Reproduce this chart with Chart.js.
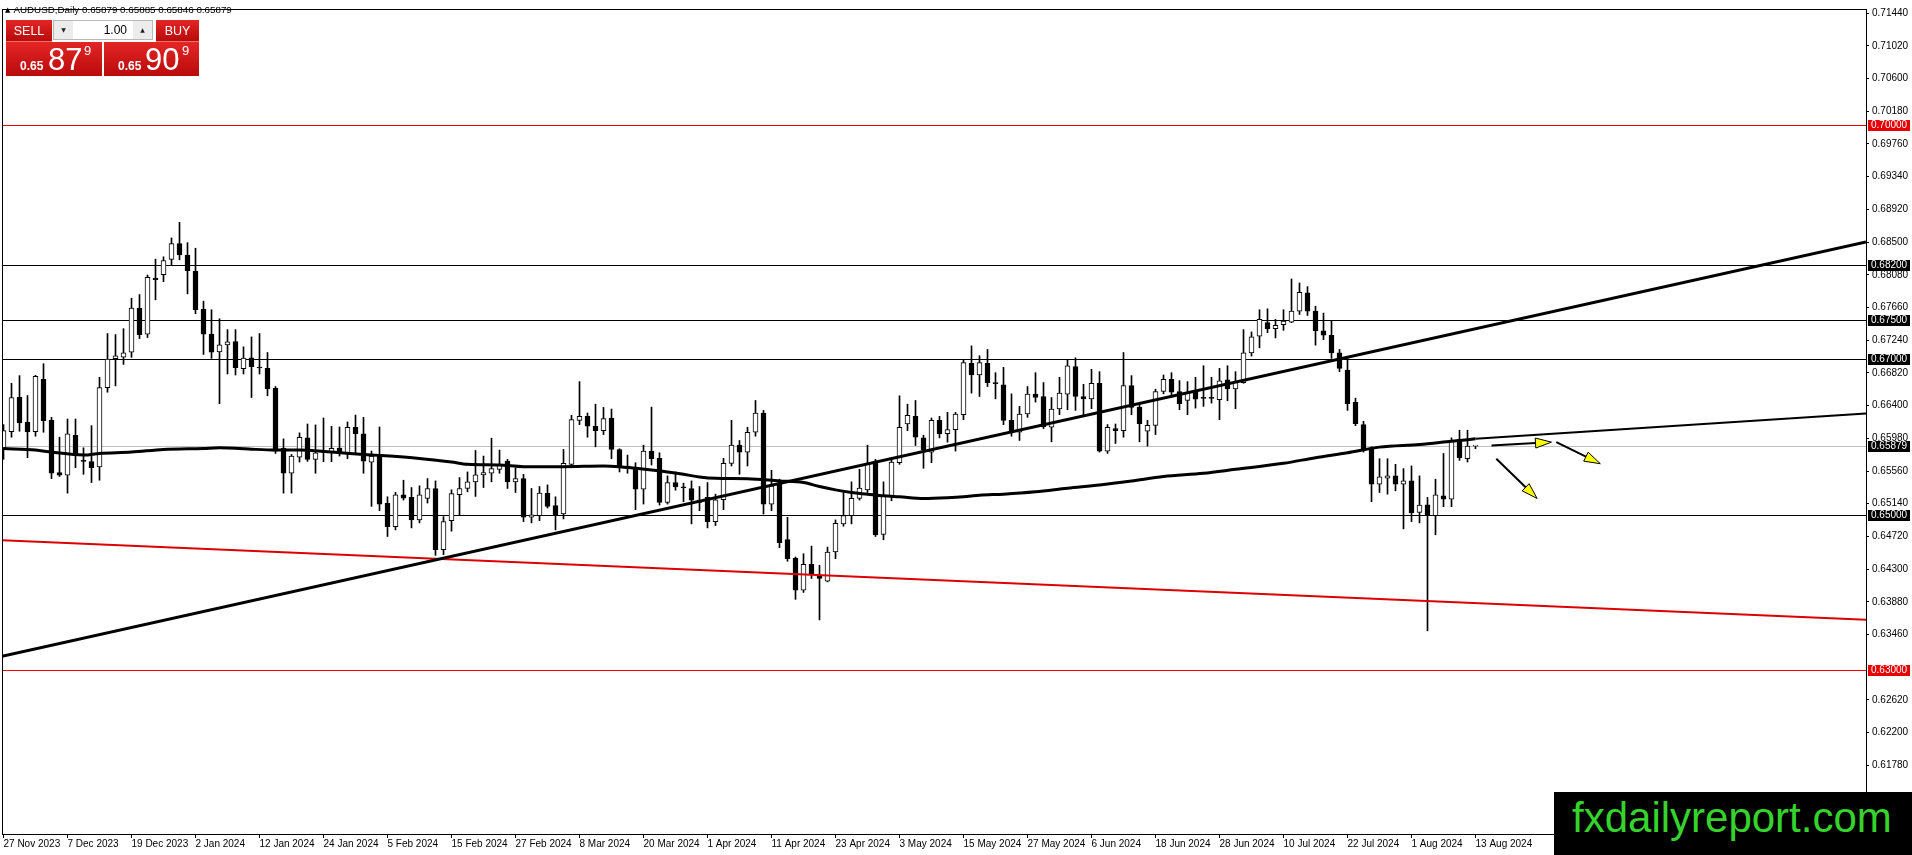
<!DOCTYPE html>
<html>
<head>
<meta charset="utf-8">
<script src="https://cdn.jsdelivr.net/npm/chart.js@4.4.1/dist/chart.umd.min.js"></script>
<style>
  html, body { margin: 0; padding: 0; background: #fff; }
  #wrap { position: relative; width: 1912px; height: 855px; overflow: hidden; }
  #c { position: absolute; left: 0; top: 0; }
  .title { position: absolute; left: 5px; top: 4px; font: 9.8px "Liberation Sans", Arial, sans-serif; line-height: 12px; color: #000; white-space: nowrap; }
  .title .tri { font: 7px "DejaVu Sans", sans-serif; margin-right: 3px; position: relative; top: -1px; }
  .red { position: absolute; background: linear-gradient(#e32626, #b90a0a); color: #fff; font-family: "Liberation Sans", Arial, sans-serif; }
  .hdr { top: 20px; height: 22px; line-height: 22px; font-size: 12.5px; text-align: center; border-bottom: 1px solid #f07070; box-sizing: border-box; }
  .pbox { top: 42px; height: 34px; }
  .pbox span { position: absolute; line-height: 1; white-space: nowrap; }
  .sm { font-size: 12px; font-weight: bold; top: 18px; }
  .big { font-size: 31px; top: 2px; }
  .sup { font-size: 13px; top: 2px; }
  .spin { position: absolute; left: 53px; top: 20px; width: 100px; height: 20px; background: #fff; border: 1px solid #b8b8b8; box-sizing: border-box; font: 12px "Liberation Sans", Arial, sans-serif; }
  .spin .btn { position: absolute; top: 0; width: 19px; height: 18px; background: #ececec; font: 6px "DejaVu Sans", sans-serif; line-height: 18px; text-align: center; color: #222; }
  .spin .lots { position: absolute; right: 25px; top: 2px; }
  .wm { position: absolute; left: 1554px; top: 792px; width: 358px; height: 63px; background: #000; color: #35d32b; font: 42px "Liberation Sans", Arial, sans-serif; line-height: 42px; padding: 5px 0 0 18px; box-sizing: border-box; white-space: nowrap; }
</style>
</head>
<body>
<div id="wrap">
  <canvas id="c" width="1912" height="855"></canvas>
  <div class="title"><span class="tri">▲</span>AUDUSD,Daily 0.65879 0.65885 0.65846 0.65879</div>
  <div class="red hdr" style="left:6px;width:46px;">SELL</div>
  <div class="spin">
    <div class="btn" style="left:0;">▼</div>
    <div class="lots">1.00</div>
    <div class="btn" style="right:0;">▲</div>
  </div>
  <div class="red hdr" style="left:156px;width:43px;">BUY</div>
  <div class="red pbox" style="left:6px;width:96px;">
    <span class="sm" style="left:14px;">0.65</span><span class="big" style="left:42px;">87</span><span class="sup" style="left:78px;">9</span>
  </div>
  <div class="red pbox" style="left:104px;width:95px;">
    <span class="sm" style="left:14px;">0.65</span><span class="big" style="left:41px;">90</span><span class="sup" style="left:78px;">9</span>
  </div>
  <div class="wm">fxdailyreport.com</div>
</div>
<script>
// daily AUDUSD candles, bar 0 = 27 Nov 2023 ... bar 184 = 13 Aug 2024
var opens = [
  0.65858,0.66067,0.66509,0.66190,0.66067,0.66738,0.66211,0.65540,0.65506,0.66020,
  0.65688,0.65680,0.65612,0.66632,0.67002,0.67023,0.67087,0.67652,0.67316,0.68039,
  0.68081,0.68277,0.68481,0.68332,0.68124,0.67639,0.67320,0.67091,0.67180,0.67223,
  0.66874,0.67014,0.66891,0.66878,0.66623,0.65850,0.65531,0.65739,0.65986,0.65710,
  0.65807,0.65807,0.65854,0.65795,0.66122,0.66037,0.65675,0.65765,0.65144,0.64847,
  0.65255,0.65221,0.64932,0.65208,0.65336,0.64549,0.64923,0.65255,0.65336,0.65421,
  0.65510,0.65531,0.65582,0.65688,0.65421,0.65463,0.64966,0.64987,0.65276,0.65115,
  0.65008,0.65646,0.66211,0.66262,0.66135,0.66079,0.66241,0.65837,0.65620,0.65603,
  0.65327,0.65816,0.65722,0.65157,0.65412,0.65353,0.65336,0.65157,0.65221,0.64911,
  0.65191,0.65659,0.65892,0.65803,0.66058,0.66305,0.65136,0.65391,0.64681,0.64443,
  0.64031,0.64362,0.64214,0.64146,0.64520,0.64881,0.64987,0.65208,0.65319,0.65688,
  0.64745,0.65242,0.65667,0.66164,0.66262,0.65986,0.65803,0.66211,0.66041,0.66092,
  0.66283,0.66942,0.66793,0.66942,0.66691,0.66666,0.66211,0.66058,0.66292,0.66547,
  0.66517,0.66122,0.66356,0.66547,0.66900,0.66517,0.66487,0.66687,0.65816,0.66105,
  0.66079,0.66657,0.66381,0.66071,0.66147,0.66581,0.66738,0.66581,0.66466,0.66581,
  0.66500,0.66496,0.66475,0.66730,0.66615,0.66696,0.67078,0.67291,0.67465,0.67388,
  0.67439,0.67473,0.67614,0.67847,0.67614,0.67359,0.67303,0.67078,0.66857,0.66441,
  0.66156,0.65858,0.65391,0.65467,0.65497,0.65391,0.65433,0.65030,0.65127,0.64987,
  0.65242,0.65200,0.65965,0.65718,0.65879
];
var highs = [
  0.66156,0.66687,0.66785,0.66530,0.66789,0.66938,0.66249,0.65994,0.66228,0.66228,
  0.65858,0.66143,0.66764,0.67325,0.67312,0.67388,0.67779,0.67826,0.68077,0.68281,
  0.68311,0.68553,0.68753,0.68493,0.68421,0.67741,0.67631,0.67516,0.67376,0.67376,
  0.67155,0.67282,0.67325,0.67082,0.66645,0.65973,0.65773,0.66050,0.66164,0.66152,
  0.66241,0.66135,0.66126,0.66190,0.66279,0.66249,0.65816,0.66126,0.65229,0.65285,
  0.65442,0.65348,0.65370,0.65463,0.65433,0.64974,0.65319,0.65476,0.65548,0.65824,
  0.65752,0.65982,0.65829,0.65710,0.65603,0.65518,0.65336,0.65361,0.65382,0.65229,
  0.65837,0.66275,0.66708,0.66305,0.66419,0.66377,0.66356,0.65846,0.65765,0.65667,
  0.65892,0.66381,0.65795,0.65497,0.65548,0.65404,0.65433,0.65361,0.65412,0.65263,
  0.65722,0.66211,0.65952,0.66122,0.66466,0.66339,0.65569,0.65455,0.64966,0.64456,
  0.64498,0.64596,0.64350,0.64583,0.64932,0.65293,0.65421,0.65582,0.65892,0.65710,
  0.65421,0.65722,0.66526,0.66419,0.66466,0.66020,0.66241,0.66262,0.66313,0.66313,
  0.66985,0.67167,0.67040,0.67121,0.66823,0.66891,0.66551,0.66390,0.66645,0.66823,
  0.66696,0.66504,0.66764,0.66985,0.67014,0.66674,0.66866,0.66836,0.66156,0.66164,
  0.67082,0.66785,0.66432,0.66211,0.66611,0.66793,0.66823,0.66721,0.66708,0.66764,
  0.66912,0.66764,0.66878,0.66912,0.66836,0.67376,0.67346,0.67631,0.67643,0.67507,
  0.67631,0.68026,0.67975,0.67928,0.67677,0.67588,0.67486,0.67121,0.67006,0.66496,
  0.66198,0.65871,0.65718,0.65718,0.65646,0.65591,0.65625,0.65497,0.65221,0.65455,
  0.65786,0.65986,0.66084,0.66084,0.65885
];
var lows = [
  0.65710,0.65994,0.66071,0.65731,0.66007,0.66058,0.65463,0.65489,0.65276,0.65603,
  0.65518,0.65412,0.65442,0.66572,0.66653,0.66929,0.67019,0.67261,0.67274,0.67758,
  0.67992,0.68204,0.68272,0.67835,0.67580,0.67057,0.67006,0.66424,0.66806,0.66793,
  0.66806,0.66504,0.66806,0.66526,0.65786,0.65276,0.65276,0.65676,0.65684,0.65531,
  0.65680,0.65680,0.65752,0.65718,0.65786,0.65531,0.65106,0.65051,0.64719,0.64804,
  0.65187,0.64830,0.64894,0.65149,0.64477,0.64486,0.64787,0.64987,0.65293,0.65234,
  0.65348,0.65421,0.65531,0.65336,0.65284,0.64911,0.64894,0.64923,0.65085,0.64804,
  0.64945,0.65625,0.66156,0.65994,0.65871,0.66028,0.65718,0.65548,0.65531,0.65064,
  0.65136,0.65637,0.65123,0.65136,0.65314,0.65166,0.64881,0.65051,0.64830,0.64860,
  0.65064,0.65625,0.65518,0.65625,0.66007,0.65008,0.65051,0.64575,0.64401,0.63912,
  0.64001,0.64180,0.63648,0.64137,0.64435,0.64851,0.64881,0.65187,0.65284,0.64719,
  0.64677,0.65178,0.65646,0.66079,0.65888,0.65595,0.65667,0.65986,0.65931,0.65816,
  0.66220,0.66560,0.66517,0.66645,0.66487,0.66156,0.66007,0.65952,0.66249,0.66445,
  0.66105,0.65935,0.66283,0.66347,0.66339,0.66283,0.66360,0.65803,0.65786,0.65914,
  0.65994,0.66283,0.65935,0.65880,0.66028,0.66551,0.66509,0.66347,0.66283,0.66368,
  0.66390,0.66432,0.66220,0.66462,0.66360,0.66687,0.67036,0.67142,0.67337,0.67269,
  0.67367,0.67465,0.67571,0.67558,0.67176,0.67248,0.67006,0.66836,0.66339,0.66143,
  0.65803,0.65166,0.65284,0.65263,0.65306,0.64817,0.64911,0.64894,0.63508,0.64741,
  0.65102,0.65102,0.65697,0.65676,0.65846
];
var closes = [
  0.66079,0.66504,0.66177,0.66062,0.66776,0.66207,0.65531,0.65506,0.66037,0.65773,
  0.65684,0.65603,0.66632,0.66997,0.67040,0.67078,0.67652,0.67312,0.68047,0.68017,
  0.68264,0.68481,0.68336,0.68132,0.67631,0.67316,0.67087,0.67180,0.67218,0.66887,
  0.67010,0.66900,0.66883,0.66615,0.65816,0.65531,0.65752,0.65994,0.65710,0.65795,
  0.65799,0.65850,0.65786,0.66122,0.66041,0.65688,0.65752,0.65136,0.64847,0.65255,
  0.65212,0.64932,0.65255,0.65336,0.64549,0.64911,0.65272,0.65336,0.65421,0.65510,
  0.65540,0.65591,0.65633,0.65421,0.65463,0.64966,0.64996,0.65276,0.65106,0.65000,
  0.65659,0.66220,0.66262,0.66135,0.66079,0.66232,0.65837,0.65616,0.65612,0.65327,
  0.65816,0.65718,0.65157,0.65412,0.65357,0.65344,0.65187,0.65187,0.64911,0.65191,
  0.65659,0.65892,0.65803,0.66058,0.66305,0.65136,0.65370,0.64639,0.64435,0.64031,
  0.64362,0.64235,0.64180,0.64520,0.64889,0.64987,0.65208,0.65340,0.65654,0.64741,
  0.65242,0.65675,0.66122,0.66275,0.65994,0.65829,0.66211,0.66041,0.66092,0.66292,
  0.66951,0.66793,0.66951,0.66696,0.66683,0.66211,0.66058,0.66292,0.66547,0.66504,
  0.66126,0.66356,0.66560,0.66912,0.66517,0.66487,0.66687,0.65816,0.66122,0.66079,
  0.66657,0.66377,0.66169,0.66147,0.66581,0.66738,0.66572,0.66424,0.66568,0.66483,
  0.66492,0.66492,0.66717,0.66615,0.66700,0.67078,0.67282,0.67507,0.67388,0.67431,
  0.67486,0.67614,0.67856,0.67614,0.67359,0.67303,0.67078,0.66878,0.66424,0.66169,
  0.65829,0.65391,0.65484,0.65497,0.65391,0.65433,0.65021,0.65123,0.64987,0.65255,
  0.65200,0.65952,0.65731,0.65880,0.65879
];

// moving average (bar index, value)
var maIdx = [0,4,6,10,12,16,20,25,27,29,31,34,37,41,45,47,52,56,58,62,
  65,70,75,77,79,81,83,85,87,89,93,97,100,102,104,106,108,110,112,115,
  118,120,122,125,129,133,137,141,145,150,154,160,164,168,172,177,181,184];
var maVal = [0.65850,0.65829,0.65803,0.65765,0.65786,0.65803,0.65837,0.65850,0.65858,0.65854,
  0.65841,0.65829,0.65829,0.65803,0.65773,0.65761,0.65722,0.65675,0.65646,0.65637,
  0.65616,0.65616,0.65625,0.65616,0.65595,0.65573,0.65548,0.65518,0.65484,0.65467,
  0.65462,0.65433,0.65412,0.65361,0.65318,0.65284,0.65263,0.65242,0.65229,0.65208,
  0.65217,0.65229,0.65250,0.65263,0.65293,0.65340,0.65382,0.65433,0.65489,0.65531,
  0.65582,0.65659,0.65731,0.65795,0.65867,0.65901,0.65943,0.65973];

// x axis labels, one every 8 bars
var timeLabels = ['27 Nov 2023','7 Dec 2023','19 Dec 2023','2 Jan 2024','12 Jan 2024','24 Jan 2024',
  '5 Feb 2024','15 Feb 2024','27 Feb 2024','8 Mar 2024','20 Mar 2024','1 Apr 2024','11 Apr 2024',
  '23 Apr 2024','3 May 2024','15 May 2024','27 May 2024','6 Jun 2024','18 Jun 2024','28 Jun 2024',
  '10 Jul 2024','22 Jul 2024','1 Aug 2024','13 Aug 2024'];
var yTickLabels = ['0.71440','0.71020','0.70600','0.70180','0.69760','0.69340','0.68920','0.68500',
  '0.68080','0.67660','0.67240','0.66820','0.66400','0.65980','0.65560','0.65140','0.64720',
  '0.64300','0.63880','0.63460','0.62620','0.62200','0.61780'];

// horizontal levels and drawn lines
var redLevels = [0.70000, 0.63000];
var blackLevels = [0.68200, 0.67500, 0.67000, 0.65000];
var bidPrice = 0.65879;
var risingLine = [[-0.19, 0.6318], [232.81, 0.6850]];
var fallingLine = [[-0.19, 0.6467], [232.81, 0.6365]];
var projLine = [[184, 0.65973], [232.81, 0.6630]];
var arrows = [[186.0, 0.65888, 193.5, 0.65931], [194.1, 0.65931, 199.6, 0.65654], [186.6, 0.65718, 191.7, 0.65208]];

document.addEventListener('DOMContentLoaded', function () {
    var xMin = -0.1875, xMax = 232.8125;
    var yMin = 0.60899, yMax = 0.71493;
    var idx = opens.map(function (v, i) { return i; });

    function seg(pts) {
        return pts.map(function (p) { return { x: p[0], y: p[1] }; });
    }

    var datasets = [];
    // wicks
    datasets.push({
        type: 'bar', order: 5, grouped: false, barThickness: 1,
        data: idx.map(function (i) { return { x: i, y: [lows[i], highs[i]] }; }),
        backgroundColor: '#000', borderWidth: 0, minBarLength: 1
    });
    // bodies
    datasets.push({
        type: 'bar', order: 4, grouped: false, barThickness: 5,
        data: idx.map(function (i) { return { x: i, y: [opens[i], closes[i]] }; }),
        backgroundColor: idx.map(function (i) { return closes[i] >= opens[i] ? '#ffffff' : '#000000'; }),
        borderColor: '#000', borderWidth: 1, borderSkipped: false, minBarLength: 1
    });
    // moving average
    datasets.push({
        type: 'line', order: 3,
        data: maIdx.map(function (x, k) { return { x: x, y: maVal[k] }; }),
        borderColor: '#000', borderWidth: 3, pointRadius: 0, cubicInterpolationMode: 'monotone'
    });
    datasets.push({ type: 'line', order: 2, data: seg(fallingLine), borderColor: '#dd0000', borderWidth: 2, pointRadius: 0 });
    datasets.push({ type: 'line', order: 1, data: seg(risingLine), borderColor: '#000', borderWidth: 3, pointRadius: 0 });
    datasets.push({ type: 'line', order: 1, data: seg(projLine), borderColor: '#000', borderWidth: 2, pointRadius: 0 });

    // horizontal levels, snapped to whole pixels so they stay crisp
    var levelPlugin = {
        id: 'levels',
        beforeDatasetsDraw: function (chart) {
            var ctx = chart.ctx, a = chart.chartArea, ys = chart.scales.y;
            var lines = [[bidPrice, '#c0c0c0']];
            redLevels.forEach(function (v) { lines.push([v, '#e60000']); });
            blackLevels.forEach(function (v) { lines.push([v, '#000000']); });
            ctx.save();
            ctx.lineWidth = 1;
            lines.forEach(function (l) {
                var y = Math.round(ys.getPixelForValue(l[0])) + 0.5;
                ctx.strokeStyle = l[1];
                ctx.beginPath();
                ctx.moveTo(a.left, y);
                ctx.lineTo(a.right, y);
                ctx.stroke();
            });
            ctx.restore();
        }
    };

    var arrowPlugin = {
        id: 'arrows',
        afterDatasetsDraw: function (chart) {
            var ctx = chart.ctx, xs = chart.scales.x, ys = chart.scales.y;
            arrows.forEach(function (a) {
                var x1 = xs.getPixelForValue(a[0]), y1 = ys.getPixelForValue(a[1]);
                var x2 = xs.getPixelForValue(a[2]), y2 = ys.getPixelForValue(a[3]);
                var ang = Math.atan2(y2 - y1, x2 - x1);
                var len = 16, half = 5;
                var bx = x2 - Math.cos(ang) * len, by = y2 - Math.sin(ang) * len;
                ctx.save();
                ctx.strokeStyle = '#000';
                ctx.lineWidth = 2;
                ctx.beginPath(); ctx.moveTo(x1, y1); ctx.lineTo(bx, by); ctx.stroke();
                ctx.beginPath();
                ctx.moveTo(x2, y2);
                ctx.lineTo(bx + Math.sin(ang) * half, by - Math.cos(ang) * half);
                ctx.lineTo(bx - Math.sin(ang) * half, by + Math.cos(ang) * half);
                ctx.closePath();
                ctx.fillStyle = '#ffff00';
                ctx.fill();
                ctx.lineWidth = 1;
                ctx.stroke();
                ctx.restore();
            });
        }
    };

    var framePlugin = {
        id: 'frame',
        afterDraw: function (chart) {
            var ctx = chart.ctx, a = chart.chartArea, ys = chart.scales.y;
            ctx.save();
            ctx.strokeStyle = '#000';
            ctx.lineWidth = 1;
            ctx.strokeRect(a.left + 0.5, a.top + 0.5, a.right - a.left, a.bottom - a.top);
            // price boxes on the axis
            var boxes = [];
            redLevels.forEach(function (v) { boxes.push([v, '#e60000']); });
            blackLevels.forEach(function (v) { boxes.push([v, '#000000']); });
            boxes.push([bidPrice, '#000000']);
            ctx.font = '10px "Liberation Sans", Arial, sans-serif';
            ctx.textBaseline = 'middle';
            boxes.forEach(function (b) {
                var y = Math.round(ys.getPixelForValue(b[0]));
                ctx.fillStyle = b[1];
                ctx.fillRect(a.right + 2, y - 5, 42, 11);
                ctx.fillStyle = '#fff';
                ctx.fillText(b[0].toFixed(5), a.right + 5, y + 0.5);
            });
            ctx.restore();
        }
    };

    Chart.defaults.font.family = '"Liberation Sans", Arial, sans-serif';
    Chart.defaults.font.size = 10;
    Chart.defaults.color = '#000';

    var ctx = document.getElementById('c').getContext('2d');
    var myChart = new Chart(ctx, {
        type: 'line',
        data: { datasets: datasets },
        options: {
            responsive: false,
            animation: false,
            devicePixelRatio: 1,
            layout: { padding: { left: 2, top: 3, right: 0, bottom: 0 } },
            plugins: { legend: { display: false }, tooltip: { enabled: false } },
            scales: {
                x: {
                    type: 'linear', min: xMin, max: xMax, offset: false,
                    grid: { display: true, drawOnChartArea: false, drawTicks: true, tickLength: 4, color: '#000', offset: false },
                    border: { display: false },
                    ticks: {
                        autoSkip: false, maxRotation: 0, minRotation: 0, align: 'start', padding: 0,
                        callback: function (v, i) { return timeLabels[i]; }
                    },
                    afterBuildTicks: function (scale) {
                        scale.ticks = timeLabels.map(function (t, k) { return { value: k * 8 }; });
                    },
                    afterFit: function (scale) { scale.height = 21; }
                },
                y: {
                    type: 'linear', position: 'right', min: yMin, max: yMax,
                    grid: { display: true, drawOnChartArea: false, drawTicks: true, tickLength: 3, color: '#000' },
                    border: { display: false },
                    ticks: {
                        autoSkip: false, padding: 3,
                        callback: function (v) { return v.toFixed(5); }
                    },
                    afterBuildTicks: function (scale) {
                        scale.ticks = yTickLabels.map(function (t) { return { value: parseFloat(t) }; });
                    },
                    afterFit: function (scale) { scale.width = 46; }
                }
            }
        },
        plugins: [levelPlugin, arrowPlugin, framePlugin]
    });
});
</script>
</body>
</html>
